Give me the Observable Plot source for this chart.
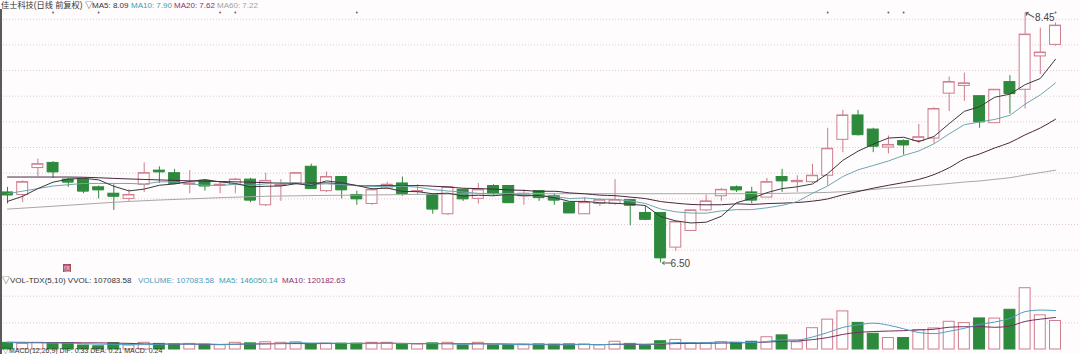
<!DOCTYPE html>
<html>
<head>
<meta charset="utf-8">
<script src="https://cdn.jsdelivr.net/npm/d3@7"></script>
<script src="https://cdn.jsdelivr.net/npm/@observablehq/plot@0.6"></script>
<style>
  body { margin: 0; background: #fefcfd; }
  #wrap { position: relative; width: 1080px; height: 354px; overflow: hidden; background: #fefcfd;
          font-family: "Liberation Sans", "Noto Sans CJK SC", sans-serif; }
  .t { position: absolute; font-size: 8px; line-height: 8px; white-space: pre; }
  #main { position: absolute; left: 0; top: 0; }
  #vol { position: absolute; left: 0; top: 283px; }
  #edge { position: absolute; left: 0; top: 9px; width: 1.5px; height: 345px; background: #5a5a5a; }
  #mark { position: absolute; left: 63px; top: 264px; width: 8px; height: 8px; background: #a9485c;
          color: #f3d9de; font-size: 7px; line-height: 8px; text-align: center; font-family: "Noto Sans CJK SC"; }
</style>
</head>
<body>
<div id="wrap">
  <div id="main"></div>
  <div id="vol"></div>
  <div id="edge"></div>
  <div id="mark">信</div>
  <span class="t" style="left:1px;top:1px;color:#333;font-size:8.2px;line-height:9px">佳士科技(日线 前复权)</span>
  <span class="t" style="left:85px;top:1.5px;color:#333">▽</span>
  <span class="t" id="ma5t" style="left:92px;top:1.5px;color:#333"></span>
  <span class="t" id="ma10t" style="left:131px;top:1.5px;color:#3d9fb1"></span>
  <span class="t" id="ma20t" style="left:174px;top:1.5px;color:#8b2f6c"></span>
  <span class="t" id="ma60t" style="left:217px;top:1.5px;color:#a3a3a3"></span>
  <span class="t" id="vvolt" style="left:2px;top:277px;color:#333"></span>
  <span class="t" id="volt" style="left:138px;top:277px;color:#4b9ec3"></span>
  <span class="t" id="vma5t" style="left:219px;top:277px;color:#3d9fb1"></span>
  <span class="t" id="vma10t" style="left:282px;top:277px;color:#8b2f6c"></span>
  <span class="t" style="left:2px;top:347px;color:#333;font-size:7px;line-height:7px">▽MACD(12,26,9) DIF: 0.33 DEA: 0.21 MACD: 0.24</span>
</div>
<script>
// Daily prices (forward-adjusted), one entry per trading day
const opens  = [7.05,7.03,7.24,7.28,7.15,7.15,7.09,7.04,7.00,7.11,
                7.22,7.20,7.11,7.14,7.105,7.11,7.15,6.95,7.10,7.12,
                7.25,7.06,7.17,7.03,6.96,7.08,7.12,7.055,7.03,6.88,
                7.07,7.00,7.10,7.10,7.02,7.06,7.02,6.97,6.88,6.96,
                6.96,6.99,6.89,6.89,6.62,6.75,6.91,7.02,7.09,7.05,
                7.01,7.17,7.13,7.13,7.18,7.46,7.65,7.54,7.40,7.45,
                7.45,7.47,7.82,7.88,7.80,7.59,7.91,7.85,8.11,8.20];
const highs  = [7.09,7.14,7.31,7.29,7.16,7.16,7.10,7.11,7.07,7.28,
                7.25,7.23,7.22,7.15,7.13,7.16,7.16,7.20,7.15,7.20,
                7.27,7.21,7.17,7.06,7.08,7.13,7.17,7.11,7.04,7.09,
                7.07,7.12,7.11,7.10,7.07,7.06,7.04,6.97,7.01,7.00,
                7.15,6.99,6.94,6.89,6.83,6.91,7.03,7.08,7.10,7.09,
                7.16,7.23,7.18,7.27,7.55,7.69,7.69,7.55,7.49,7.46,
                7.58,7.71,7.95,7.98,7.80,7.85,7.96,8.45,8.33,8.37];
const lows   = [6.96,6.97,7.17,7.16,7.09,7.04,7.00,6.91,6.98,7.05,
                7.12,7.11,7.04,7.06,7.04,7.04,6.97,6.94,6.98,7.11,
                7.08,7.05,7.00,6.95,6.95,7.07,7.02,7.03,6.88,6.87,
                6.98,6.96,7.02,6.97,6.95,6.98,6.95,6.89,6.88,6.94,
                6.95,6.79,6.83,6.50,6.59,6.75,6.90,6.98,7.05,6.96,
                7.01,7.05,7.05,7.12,7.10,7.36,7.49,7.36,7.35,7.34,
                7.43,7.43,7.68,7.76,7.55,7.59,7.66,7.70,7.97,8.19];
const closes = [7.03,7.13,7.27,7.21,7.13,7.06,7.07,7.02,7.03,7.20,
                7.21,7.12,7.12,7.10,7.11,7.15,6.99,7.14,7.11,7.20,
                7.08,7.17,7.07,7.00,7.07,7.11,7.04,7.06,6.92,7.09,
                7.00,7.07,7.04,6.97,7.04,7.01,6.99,6.89,6.97,6.99,
                6.99,6.95,6.84,6.54,6.82,6.91,6.98,7.07,7.07,6.99,
                7.13,7.14,7.14,7.18,7.39,7.65,7.50,7.41,7.42,7.42,
                7.48,7.70,7.91,7.90,7.60,7.85,7.82,8.28,8.14,8.35];

// Daily volume
const volumes = [25000,21000,25000,24000,24000,15000,12000,24000,15000,25000,
                 21000,19000,21000,18000,16000,25000,23000,27000,25000,27000,
                 19000,22000,22000,22000,25000,25000,17000,19000,23000,25000,
                 15000,25000,15000,16000,18000,19000,18000,19000,19000,16000,
                 29000,21000,14000,31000,36000,24000,24000,27000,25000,29000,
                 46000,53000,27000,80000,112000,143000,100000,59000,43000,43000,
                 73000,79000,104000,99000,116575.6,116000,149000,230000,128167.12,107083.58];

// Days carrying an event marker along the top edge
const eventDays = [3, 6, 14, 15, 23, 54, 58, 59, 69];

// Moving-average values before each window fills (earlier history is off-chart)
const ma5Head  = [6.98, 7.02, 7.08, 7.13];
const ma10Head = [7.04, 7.06, 7.08, 7.10, 7.11, 7.12, 7.12, 7.12, 7.12];
const ma20HeadIdx = [0, 4, 8, 12, 16];
const ma20HeadVal = [7.17, 7.17, 7.155, 7.14, 7.13];
const ma60HeadIdx = [0, 4, 8, 12, 17, 24, 32, 40, 48, 54];
const ma60HeadVal = [6.92, 6.95, 6.98, 7.00, 7.02, 7.03, 7.04, 7.04, 7.04, 7.05];
const vma5Head  = [26000, 25000, 25000, 24000];
const vma10Head = [27000, 27000, 26000, 26000, 26000, 25000, 25000, 24000, 23000];

const priceGrid = [6.6, 6.8, 7.0, 7.2, 7.4, 7.6, 7.8, 8.0, 8.2, 8.4];
const volGrid = [100000, 200000];

const UP = "#cf7c8c", DOWN = "#2d8a3c";
const n = closes.length;
const idx = d3.range(n);

function rolling(values, win, i) {
  return d3.mean(values.slice(i - win + 1, i + 1));
}
function denseMA(values, win, head) {
  return idx.map(i => ({i, v: i < win - 1 ? head[i] : rolling(values, win, i)}));
}
function sparseMA(values, win, hIdx, hVal) {
  const pts = hIdx.map((i, k) => ({i, v: hVal[k]}));
  for (let i = win - 1; i < n; i++) pts.push({i, v: rolling(values, win, i)});
  return pts;
}

const ma5 = denseMA(closes, 5, ma5Head);
const ma10 = denseMA(closes, 10, ma10Head);
const ma20 = sparseMA(closes, 20, ma20HeadIdx, ma20HeadVal);
const ma60 = sparseMA(closes, 60, ma60HeadIdx, ma60HeadVal);
const vma5 = denseMA(volumes, 5, vma5Head);
const vma10 = denseMA(volumes, 10, vma10Head);

const candles = idx.map(i => ({i, open: opens[i], high: highs[i], low: lows[i], close: closes[i],
                               up: closes[i] >= opens[i]}));
const upC = candles.filter(d => d.up), downC = candles.filter(d => !d.up);
const bars = idx.map(i => ({i, v: volumes[i], up: candles[i].up}));

const hiI = d3.maxIndex(highs), loI = d3.minIndex(lows);
const hiPt = [{i: hiI, v: highs[hiI]}], loPt = [{i: loI, v: lows[loI]}];

const W = 0.36; // half body width in day units
const xScale = {domain: [0, n - 1], range: [7, 1055], axis: null};
const labelFont = {fontSize: 10, fill: "#444", fontFamily: "Liberation Sans", textAnchor: "start"};

const main = Plot.plot({
  width: 1080, height: 272, margin: 0,
  style: {background: "transparent", overflow: "visible"},
  x: xScale,
  y: {domain: [6.5, 8.45], range: [262.5, 12.3], axis: null},
  marks: [
    Plot.ruleY(priceGrid, {stroke: "#e3c9cf", strokeDasharray: "1,2"}),
    Plot.dot(eventDays, {x: d => d, frameAnchor: "top", dy: 12, r: 1, fill: "#8a5a66", stroke: null}),
    Plot.ruleX(upC, {x: "i", y1: "low", y2: "high", stroke: UP}),
    Plot.ruleX(downC, {x: "i", y1: "low", y2: "high", stroke: DOWN}),
    Plot.rect(upC, {x1: d => d.i - W, x2: d => d.i + W, y1: "open", y2: "close", fill: "#fff", stroke: UP}),
    Plot.rect(downC, {x1: d => d.i - W, x2: d => d.i + W, y1: "open", y2: "close", fill: DOWN, stroke: DOWN}),
    Plot.ruleY(upC, {x1: d => d.i - W, x2: d => d.i + W, y: "close", stroke: UP}),
    Plot.ruleY(downC, {x1: d => d.i - W, x2: d => d.i + W, y: "close", stroke: DOWN}),
    Plot.line(ma60, {x: "i", y: "v", stroke: "#a8a8a8", strokeWidth: 1, curve: "monotone-x"}),
    Plot.line(ma20, {x: "i", y: "v", stroke: "#4a2640", strokeWidth: 1, curve: "monotone-x"}),
    Plot.line(ma10, {x: "i", y: "v", stroke: "#6fa7ad", strokeWidth: 1}),
    Plot.line(ma5, {x: "i", y: "v", stroke: "#3a3a3a", strokeWidth: 1}),
    // high / low call-outs
    Plot.vector(hiPt, {x: "i", y: "v", dx: 1, length: 9, anchor: "end", rotate: 300, shape: "arrow",
                       stroke: "#555", strokeWidth: 1}),
    Plot.vector(loPt, {x: "i", y: "v", dx: 2, length: 8, anchor: "end", rotate: 270, shape: "arrow",
                       stroke: "#555", strokeWidth: 1}),
    Plot.text(hiPt, {x: "i", y: "v", text: d => d.v.toFixed(2), dx: 10, dy: 5, ...labelFont}),
    Plot.text(loPt, {x: "i", y: "v", text: d => d.v.toFixed(2), dx: 10, dy: 1, ...labelFont})
  ]
});
document.getElementById("main").append(main);

const vol = Plot.plot({
  width: 1080, height: 71, margin: 0,
  style: {background: "transparent", overflow: "visible"},
  x: xScale,
  y: {domain: [0, 200000], range: [66, 12.7], axis: null},
  marks: [
    Plot.ruleY(volGrid, {stroke: "#e3c9cf", strokeDasharray: "1,2"}),
    Plot.rect(bars.filter(d => d.up), {x1: d => d.i - W, x2: d => d.i + W, y1: 0, y2: "v", fill: "#fff", stroke: UP}),
    Plot.rect(bars.filter(d => !d.up), {x1: d => d.i - W, x2: d => d.i + W, y1: 0, y2: "v", fill: DOWN, stroke: DOWN}),
    Plot.line(vma10, {x: "i", y: "v", stroke: "#7a2d5e", strokeWidth: 1, curve: "monotone-x"}),
    Plot.line(vma5, {x: "i", y: "v", stroke: "#4e9fbf", strokeWidth: 1, curve: "monotone-x"})
  ]
});
document.getElementById("vol").append(vol);

const last = a => a[a.length - 1].v;
document.getElementById("ma5t").textContent = "MA5: " + last(ma5).toFixed(2);
document.getElementById("ma10t").textContent = "MA10: " + last(ma10).toFixed(2);
document.getElementById("ma20t").textContent = "MA20: " + last(ma20).toFixed(2);
document.getElementById("ma60t").textContent = "MA60: " + last(ma60).toFixed(2);
document.getElementById("vvolt").textContent = "▽VOL-TDX(5,10) VVOL: " + volumes[n - 1].toFixed(2);
document.getElementById("volt").textContent = "VOLUME: " + volumes[n - 1].toFixed(2);
document.getElementById("vma5t").textContent = "MA5: " + last(vma5).toFixed(2);
document.getElementById("vma10t").textContent = "MA10: " + last(vma10).toFixed(2);
</script>
</body>
</html>
